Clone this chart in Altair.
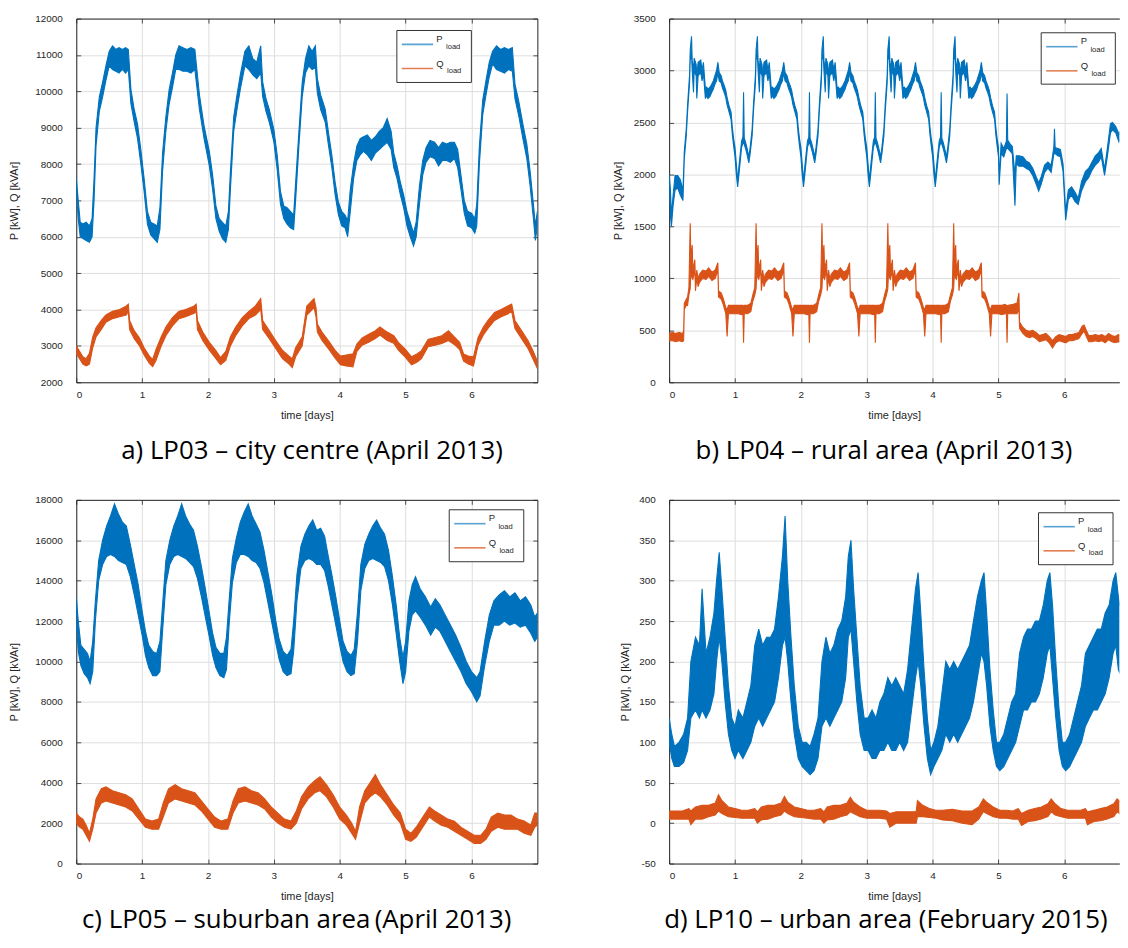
import altair as alt
import pandas as pd

BLUE = "#0072BD"
ORANGE = "#D95319"
AX = "#262626"
GRID = "#dedede"
FONT = "Liberation Sans"
CAP_FONT = "Open Sans"

# ---------------- data (t [days], lower, upper envelope of the noisy trace) -------------
A_P = [(0.00,7300,7600),(0.03,6500,7000),(0.06,6000,6400),(0.10,5950,6350),(0.15,5900,6400),(0.20,5850,6300),
       (0.24,6000,6500),(0.27,7000,7600),(0.30,8500,9000),(0.35,9450,9850),(0.40,9850,10250),(0.45,10300,10700),
       (0.50,10700,11100),(0.55,10600,11250),(0.60,10550,11150),(0.65,10500,11200),(0.70,10600,11150),(0.75,10500,11200),
       (0.79,10600,11150),(0.83,9650,10050),(0.88,9150,9500),(0.93,8700,9100),(0.98,8000,8400),(1.03,7250,7600),
       (1.08,6350,6700),(1.13,6050,6400),(1.18,5950,6350),(1.23,5850,6300),(1.27,6200,6800),(1.31,7800,8300),
       (1.36,8900,9300),(1.41,9650,10050),(1.46,10100,10500),(1.51,10600,11000),(1.56,10600,11250),(1.62,10550,11200),
       (1.68,10550,11150),(1.74,10500,11200),(1.80,10600,11150),(1.87,9500,9900),(1.94,8700,9050),(2.02,7950,8350),
       (2.07,7300,7700),(2.12,6500,6850),(2.17,6150,6500),(2.22,5950,6400),(2.27,5850,6300),(2.31,6200,6700),
       (2.34,7300,7800),(2.39,8900,9300),(2.44,9500,9900),(2.49,10050,10450),(2.56,10700,11100),(2.62,10600,11250),
       (2.68,10450,10900),(2.74,10350,10800),(2.80,10500,11250),(2.83,9850,10250),(2.88,9450,9800),(2.93,9150,9500),
       (3.00,8600,8950),(3.05,7850,8250),(3.10,6900,7250),(3.15,6500,6850),(3.20,6350,6800),(3.25,6250,6700),
       (3.30,6200,6600),(3.33,7000,7500),(3.38,8500,8900),(3.43,9850,10250),(3.48,10500,10900),(3.53,10700,11250),
       (3.58,10600,11100),(3.63,10650,11250),(3.66,9950,10350),(3.71,9500,9900),(3.78,9150,9500),(3.83,8500,8850),
       (3.88,7900,8250),(3.93,7150,7500),(3.98,6600,6950),(4.03,6300,6700),(4.08,6250,6600),(4.12,6000,6450),
       (4.16,6700,7300),(4.21,7600,8000),(4.26,8100,8500),(4.31,8250,8700),(4.36,8350,8750),(4.42,8250,8800),
       (4.48,8100,8650),(4.54,8300,8750),(4.60,8400,8900),(4.66,8500,9000),(4.72,8600,9250),(4.78,8400,8900),
       (4.82,7900,8300),(4.87,7600,7950),(4.92,7150,7500),(4.97,6800,7150),(5.02,6300,6700),(5.07,6000,6400),
       (5.12,5750,6100),(5.16,6000,6400),(5.21,6900,7400),(5.26,7700,8100),(5.31,8050,8450),(5.37,8200,8650),
       (5.44,8150,8600),(5.50,7950,8450),(5.56,8100,8600),(5.62,8100,8550),(5.68,8050,8600),(5.74,8150,8600),
       (5.79,7900,8400),(5.84,7300,7700),(5.89,6650,7000),(5.94,6300,6700),(6.00,6250,6650),(6.05,6100,6500),
       (6.08,6300,6900),(6.12,8000,8500),(6.17,9350,9750),(6.22,9900,10300),(6.27,10400,10800),(6.32,10750,11100),
       (6.38,10600,11250),(6.44,10550,11150),(6.50,10500,11200),(6.56,10600,11150),(6.62,10550,11200),(6.66,9800,10200),
       (6.72,9300,9700),(6.78,8700,9100),(6.84,8150,8550),(6.89,7400,7800),(6.94,6500,6900),(6.97,5900,6300),
       (7.00,6300,6700)]

A_Q = [(0.00,2800,3000),(0.05,2650,2850),(0.10,2500,2700),(0.15,2450,2650),(0.20,2500,2800),(0.25,2950,3250),
       (0.30,3250,3500),(0.38,3450,3700),(0.45,3650,3850),(0.55,3750,3950),(0.66,3800,4000),(0.76,3850,4100),
       (0.79,3950,4150),(0.81,3450,3700),(0.88,3200,3420),(0.96,3000,3220),(1.03,2750,2950),(1.11,2520,2720),
       (1.16,2430,2630),(1.21,2600,2900),(1.29,3000,3250),(1.36,3280,3520),(1.46,3550,3780),(1.56,3750,3950),
       (1.66,3800,4000),(1.79,3900,4100),(1.82,3950,4150),(1.84,3450,3700),(1.92,3150,3380),(2.02,2880,3100),
       (2.12,2650,2870),(2.19,2480,2680),(2.27,2600,2850),(2.34,3000,3250),(2.42,3280,3520),(2.52,3550,3780),
       (2.62,3750,3950),(2.72,3850,4100),(2.80,4000,4300),(2.83,3450,3700),(2.93,3200,3420),(3.03,2920,3140),
       (3.13,2650,2880),(3.23,2500,2720),(3.28,2400,2650),(3.33,2700,2950),(3.43,3000,3250),(3.50,3850,4100),
       (3.61,4050,4300),(3.64,3800,4050),(3.66,3380,3600),(3.73,3150,3380),(3.83,2920,3140),(3.93,2660,2880),
       (4.01,2480,2720),(4.10,2450,2750),(4.20,2420,2780),(4.26,2850,3050),(4.34,3020,3220),(4.44,3100,3320),
       (4.54,3200,3420),(4.61,3300,3520),(4.72,3150,3380),(4.82,3070,3280),(4.89,2880,3100),(4.99,2700,2920),
       (5.09,2480,2700),(5.17,2550,2780),(5.24,2650,2870),(5.34,2980,3180),(5.45,3020,3230),(5.55,3070,3280),
       (5.65,3150,3420),(5.75,3020,3230),(5.82,2900,3100),(5.88,2580,2780),(5.95,2500,2720),(6.03,2450,2700),
       (6.10,3020,3230),(6.18,3300,3520),(6.25,3480,3700),(6.35,3700,3920),(6.45,3800,4000),(6.55,3880,4100),
       (6.61,3950,4150),(6.66,3480,3700),(6.76,3200,3420),(6.86,2920,3140),(6.93,2650,2880),(7.00,2380,2580)]

B_P = [(0.00,1950,2000),(0.02,1600,1850),(0.035,1500,1600),(0.06,1700,1800),(0.09,1850,1990),(0.13,1870,1990),
       (0.17,1800,1950),(0.21,1750,1850),(0.23,2150,2220),(0.26,2370,2440),(0.28,2600,2670),(0.31,2880,2960),
       (0.32,3100,3200),(0.34,3150,3330),(0.35,3000,3100),(0.37,2790,3000),(0.38,3000,3120),(0.41,2950,3060),
       (0.42,2730,2950),(0.44,2950,3080),(0.48,2980,3100),(0.50,2900,3000),(0.52,2980,3080),(0.55,2730,2830),
       (0.57,2760,2840),(0.59,2730,2820),(0.62,2750,2840),(0.64,2780,2860),(0.67,2820,2900),(0.69,2860,2940),
       (0.72,2900,3000),(0.74,2980,3080),(0.76,2900,2980),(0.79,2880,2950),(0.81,2830,2900),(0.84,2780,2850),
       (0.86,2740,2810),(0.88,2670,2740),(0.91,2600,2660),(0.94,2530,2600),(0.96,2380,2450),(0.98,2270,2340),
       (1.00,2170,2260),(1.02,2000,2100),(1.04,1880,1940),(1.06,2000,2080),(1.08,2130,2200),(1.10,2260,2320),
       (1.12,2300,2360),(1.13,2300,2790),(1.14,2290,2350),(1.16,2250,2310),(1.18,2200,2260),(1.21,2110,2170),
       (1.23,2200,2260),(1.26,2370,2440),(1.28,2600,2670),(1.31,2880,2960),(1.32,3100,3200),(1.34,3150,3330),
       (1.35,3000,3100),(1.37,2790,3000),(1.38,3000,3120),(1.41,2950,3060),(1.42,2730,2950),(1.44,2950,3080),
       (1.48,2980,3100),(1.50,2900,3000),(1.52,2980,3080),(1.55,2730,2830),(1.57,2760,2840),(1.59,2730,2820),
       (1.62,2750,2840),(1.64,2780,2860),(1.67,2820,2900),(1.69,2860,2940),(1.72,2900,3000),(1.74,2980,3080),
       (1.76,2900,2980),(1.79,2880,2950),(1.81,2830,2900),(1.84,2780,2850),(1.86,2740,2810),(1.88,2670,2740),
       (1.91,2600,2660),(1.94,2530,2600),(1.96,2380,2450),(1.98,2270,2340),
       (2.00,2170,2260),(2.02,2000,2100),(2.04,1880,1940),(2.06,2000,2080),(2.08,2130,2200),(2.10,2260,2320),
       (2.12,2300,2360),(2.13,2300,2790),(2.14,2290,2350),(2.16,2250,2310),(2.18,2200,2260),(2.21,2110,2170),
       (2.23,2200,2260),(2.26,2370,2440),(2.28,2600,2670),(2.31,2880,2960),(2.32,3100,3200),(2.34,3150,3330),
       (2.35,3000,3100),(2.37,2790,3000),(2.38,3000,3120),(2.41,2950,3060),(2.42,2730,2950),(2.44,2950,3080),
       (2.48,2980,3100),(2.50,2900,3000),(2.52,2980,3080),(2.55,2730,2830),(2.57,2760,2840),(2.59,2730,2820),
       (2.62,2750,2840),(2.64,2780,2860),(2.67,2820,2900),(2.69,2860,2940),(2.72,2900,3000),(2.74,2980,3080),
       (2.76,2900,2980),(2.79,2880,2950),(2.81,2830,2900),(2.84,2780,2850),(2.86,2740,2810),(2.88,2670,2740),
       (2.91,2600,2660),(2.94,2530,2600),(2.96,2380,2450),(2.98,2270,2340),
       (3.00,2170,2260),(3.02,2000,2100),(3.04,1880,1940),(3.06,2000,2080),(3.08,2130,2200),(3.10,2260,2320),
       (3.12,2300,2360),(3.13,2300,2790),(3.14,2290,2350),(3.16,2250,2310),(3.18,2200,2260),(3.21,2110,2170),
       (3.23,2200,2260),(3.26,2370,2440),(3.28,2600,2670),(3.31,2880,2960),(3.32,3100,3200),(3.34,3150,3330),
       (3.35,3000,3100),(3.37,2790,3000),(3.38,3000,3120),(3.41,2950,3060),(3.42,2730,2950),(3.44,2950,3080),
       (3.48,2980,3100),(3.50,2900,3000),(3.52,2980,3080),(3.55,2730,2830),(3.57,2760,2840),(3.59,2730,2820),
       (3.62,2750,2840),(3.64,2780,2860),(3.67,2820,2900),(3.69,2860,2940),(3.72,2900,3000),(3.74,2980,3080),
       (3.76,2900,2980),(3.79,2880,2950),(3.81,2830,2900),(3.84,2780,2850),(3.86,2740,2810),(3.88,2670,2740),
       (3.91,2600,2660),(3.94,2530,2600),(3.96,2380,2450),(3.98,2270,2340),
       (4.00,2170,2260),(4.02,2000,2100),(4.04,1880,1940),(4.06,2000,2080),(4.08,2130,2200),(4.10,2260,2320),
       (4.12,2300,2360),(4.13,2300,2790),(4.14,2290,2350),(4.16,2250,2310),(4.18,2200,2260),(4.21,2110,2170),
       (4.23,2200,2260),(4.26,2370,2440),(4.28,2600,2670),(4.31,2880,2960),(4.32,3100,3200),(4.34,3150,3330),
       (4.35,3000,3100),(4.37,2790,3000),(4.38,3000,3120),(4.41,2950,3060),(4.42,2730,2950),(4.44,2950,3080),
       (4.48,2980,3100),(4.50,2900,3000),(4.52,2980,3080),(4.55,2730,2830),(4.57,2760,2840),(4.59,2730,2820),
       (4.62,2750,2840),(4.64,2780,2860),(4.67,2820,2900),(4.69,2860,2940),(4.72,2900,3000),(4.74,2980,3080),
       (4.76,2900,2980),(4.79,2880,2950),(4.81,2830,2900),(4.84,2780,2850),(4.86,2740,2810),(4.88,2670,2740),
       (4.91,2600,2660),(4.94,2530,2600),(4.96,2380,2450),(4.98,2270,2340),
       (5.00,2170,2260),(5.01,1900,1960),(5.04,2200,2300),(5.08,2170,2250),(5.12,2250,2320),(5.13,2250,2780),
       (5.14,2250,2330),(5.17,2230,2300),(5.21,2200,2270),(5.25,1700,2000),(5.27,2100,2180),(5.31,2080,2180),
       (5.37,2080,2170),(5.42,2060,2130),(5.47,2040,2110),(5.52,1990,2060),(5.57,1910,1980),(5.61,1840,1920),
       (5.65,1910,1980),(5.70,2020,2090),(5.75,2060,2120),(5.80,2020,2090),(5.84,2200,2260),(5.85,2200,2440),
       (5.86,2200,2260),(5.90,2180,2250),(5.94,2170,2240),(5.98,2030,2100),(6.02,1560,1640),(6.06,1760,1850),
       (6.11,1800,1880),(6.16,1740,1830),(6.21,1710,1770),(6.26,1840,1930),(6.32,1930,2030),(6.37,1970,2060),
       (6.42,2040,2120),(6.47,2090,2180),(6.52,2120,2210),(6.56,2170,2250),(6.61,1990,2050),(6.65,2160,2240),
       (6.70,2400,2490),(6.73,2430,2500),(6.78,2400,2460),(6.83,2310,2390),(6.87,2380,2450)]

B_Q = [(0.00,400,470),(0.05,400,480),(0.10,390,470),(0.15,400,480),(0.20,390,470),(0.22,400,490),
       (0.23,700,760),(0.26,740,800),(0.28,740,820),(0.30,840,910),(0.32,900,1530),(0.33,1050,1180),
       (0.35,1000,1320),(0.36,990,1080),(0.39,1080,1180),(0.40,880,950),(0.42,1000,1080),(0.44,920,990),
       (0.46,960,1040),(0.51,1000,1080),(0.56,990,1070),(0.60,1020,1100),(0.65,980,1060),(0.70,1000,1080),
       (0.74,1080,1150),(0.75,820,880),(0.79,800,860),(0.82,750,810),(0.86,660,720),(0.88,440,700),
       (0.90,660,740),(0.95,660,740),
       (1.00,660,740),(1.05,660,740),(1.10,650,740),(1.12,660,740),(1.13,380,730),(1.14,660,740),(1.19,660,740),
       (1.24,680,760),(1.27,780,840),(1.30,840,910),(1.32,900,1530),(1.33,1050,1180),(1.35,1000,1320),
       (1.36,990,1080),(1.39,1080,1180),(1.40,880,950),(1.42,1000,1080),(1.44,920,990),(1.46,960,1040),
       (1.51,1000,1080),(1.56,990,1070),(1.60,1020,1100),(1.65,980,1060),(1.70,1000,1080),(1.74,1080,1150),
       (1.75,820,880),(1.79,800,860),(1.82,750,810),(1.86,660,720),(1.88,440,700),(1.90,660,740),(1.95,660,740),
       (2.00,660,740),(2.05,660,740),(2.10,650,740),(2.12,660,740),(2.13,380,730),(2.14,660,740),(2.19,660,740),
       (2.24,680,760),(2.27,780,840),(2.30,840,910),(2.32,900,1530),(2.33,1050,1180),(2.35,1000,1320),
       (2.36,990,1080),(2.39,1080,1180),(2.40,880,950),(2.42,1000,1080),(2.44,920,990),(2.46,960,1040),
       (2.51,1000,1080),(2.56,990,1070),(2.60,1020,1100),(2.65,980,1060),(2.70,1000,1080),(2.74,1080,1150),
       (2.75,820,880),(2.79,800,860),(2.82,750,810),(2.86,660,720),(2.88,440,700),(2.90,660,740),(2.95,660,740),
       (3.00,660,740),(3.05,660,740),(3.10,650,740),(3.12,660,740),(3.13,380,730),(3.14,660,740),(3.19,660,740),
       (3.24,680,760),(3.27,780,840),(3.30,840,910),(3.32,900,1530),(3.33,1050,1180),(3.35,1000,1320),
       (3.36,990,1080),(3.39,1080,1180),(3.40,880,950),(3.42,1000,1080),(3.44,920,990),(3.46,960,1040),
       (3.51,1000,1080),(3.56,990,1070),(3.60,1020,1100),(3.65,980,1060),(3.70,1000,1080),(3.74,1080,1150),
       (3.75,820,880),(3.79,800,860),(3.82,750,810),(3.86,660,720),(3.88,440,700),(3.90,660,740),(3.95,660,740),
       (4.00,660,740),(4.05,660,740),(4.10,650,740),(4.12,660,740),(4.13,380,730),(4.14,660,740),(4.19,660,740),
       (4.24,680,760),(4.27,780,840),(4.30,840,910),(4.32,900,1530),(4.33,1050,1180),(4.35,1000,1320),
       (4.36,990,1080),(4.39,1080,1180),(4.40,880,950),(4.42,1000,1080),(4.44,920,990),(4.46,960,1040),
       (4.51,1000,1080),(4.56,990,1070),(4.60,1020,1100),(4.65,980,1060),(4.70,1000,1080),(4.74,1080,1150),
       (4.75,820,880),(4.79,800,860),(4.82,750,810),(4.86,660,720),(4.88,440,700),(4.90,660,740),(4.95,660,740),
       (5.00,660,740),(5.05,650,740),(5.10,660,750),(5.12,660,740),(5.13,380,730),(5.14,660,740),(5.22,660,750),
       (5.28,660,760),(5.31,700,860),(5.32,520,580),(5.37,470,530),(5.42,440,500),(5.47,430,490),(5.52,440,500),
       (5.57,420,480),(5.62,390,450),(5.67,400,460),(5.72,410,470),(5.77,380,440),(5.82,330,400),(5.87,380,440),
       (5.92,400,460),(5.97,390,450),(6.02,380,440),(6.07,400,460),(6.12,400,460),(6.17,410,470),(6.22,420,480),
       (6.27,470,540),(6.30,490,550),(6.34,430,490),(6.37,390,450),(6.42,390,450),(6.47,400,460),(6.52,390,450),
       (6.57,400,460),(6.62,380,440),(6.67,410,470),(6.72,390,450),(6.77,380,440),(6.82,390,460),(6.87,380,450)]

C_P = [(0.00,12000,13200),(0.03,10500,12000),(0.07,9800,10800),(0.12,9400,10600),(0.17,9200,10400),(0.21,8900,10000),
       (0.25,9500,11000),(0.29,12000,13000),(0.34,14000,15000),(0.40,14800,16000),(0.46,15200,16700),(0.52,15300,17200),
       (0.58,15200,17800),(0.64,15000,17300),(0.70,14900,16900),(0.76,14800,16700),(0.82,14200,15800),(0.88,13300,14800),
       (0.94,12300,13800),(1.00,11300,12500),(1.05,10300,11500),(1.10,9700,10800),(1.16,9300,10500),(1.22,9300,10400),
       (1.27,9500,11000),(1.31,11500,12800),(1.36,13800,15000),(1.42,14800,16000),(1.48,15200,16700),(1.54,15300,17200),
       (1.60,15200,17800),(1.66,15100,17200),(1.72,14900,16800),(1.78,14700,16500),(1.84,14100,15700),(1.90,13200,14700),
       (1.96,12200,13600),(2.02,11200,12400),(2.07,10300,11400),(2.12,9700,10700),(2.18,9300,10400),(2.24,9200,10400),
       (2.28,9600,11200),(2.32,11800,13000),(2.37,13900,15100),(2.43,14900,16100),(2.49,15300,16900),(2.55,15300,17400),
       (2.61,15200,17800),(2.67,15000,17200),(2.73,14900,16800),(2.79,14600,16400),(2.85,13900,15500),(2.91,12900,14400),
       (2.97,11900,13300),(3.03,10900,12000),(3.08,10100,11100),(3.14,9500,10500),(3.20,9300,10300),(3.26,9400,10600),
       (3.30,10500,12000),(3.35,13000,14300),(3.41,14600,15700),(3.47,15000,16300),(3.53,15100,16700),(3.59,15000,17000),
       (3.65,14800,16500),(3.71,14800,16600),(3.77,14500,16200),(3.82,13800,15300),(3.88,12800,14300),(3.94,11800,13200),
       (4.00,10800,12000),(4.05,10000,11000),(4.11,9500,10500),(4.17,9300,10300),(4.22,9400,10600),(4.27,11000,12500),
       (4.32,13500,14800),(4.38,14600,15800),(4.44,15000,16300),(4.50,15100,16700),(4.56,15000,17000),(4.62,14900,16600),
       (4.68,14700,16300),(4.74,14000,15500),(4.80,12800,14200),(4.86,11300,12700),(4.91,10000,11200),(4.96,8900,10200),
       (5.00,9500,11000),(5.05,11500,13000),(5.10,12300,13800),(5.15,12500,14200),(5.22,12200,13600),(5.30,11800,13200),
       (5.38,11300,12700),(5.45,11700,13100),(5.52,11500,12800),(5.60,11000,12300),(5.68,10500,11800),(5.76,10000,11300),
       (5.84,9500,10700),(5.92,8900,10000),(6.00,8500,9500),(6.08,8000,9200),(6.13,8300,9500),(6.20,9800,11000),
       (6.27,11000,12300),(6.34,11800,13000),(6.42,11800,13300),(6.50,12000,13500),(6.58,11800,13200),(6.66,11900,13400),
       (6.74,11700,13000),(6.82,11800,13200),(6.90,11400,12800),(6.96,11000,12200),(7.00,11200,12400)]

C_Q = [(0.00,2000,2500),(0.05,1800,2300),(0.10,1700,2200),(0.15,1400,1900),(0.20,1100,1500),(0.25,1700,2200),
       (0.30,2500,3200),(0.38,3000,3700),(0.45,3100,3800),(0.55,3000,3600),(0.65,2900,3500),(0.75,2800,3400),
       (0.85,2600,3200),(0.95,2200,2700),(1.05,1800,2200),(1.15,1700,2100),(1.25,1700,2200),(1.32,2300,3000),
       (1.40,3000,3700),(1.50,3200,3900),(1.60,3100,3700),(1.70,3000,3600),(1.80,2900,3500),(1.90,2600,3100),
       (2.00,2200,2700),(2.10,1800,2300),(2.20,1700,2100),(2.30,1700,2200),(2.38,2500,3100),(2.46,3000,3700),
       (2.56,3100,3800),(2.66,3000,3600),(2.76,2900,3500),(2.86,2700,3200),(2.96,2300,2800),(3.06,2000,2500),
       (3.16,1800,2200),(3.26,1700,2100),(3.34,2000,2600),(3.42,2700,3300),(3.52,3200,3800),(3.62,3500,4100),
       (3.70,3600,4300),(3.80,3300,3900),(3.90,2800,3400),(4.00,2200,2800),(4.10,1900,2400),(4.18,1500,2000),
       (4.24,1200,1600),(4.30,2000,2800),(4.38,3000,3600),(4.46,3300,4000),(4.54,3500,4400),(4.62,3300,3900),
       (4.72,2900,3400),(4.82,2400,2900),(4.92,2000,2500),(5.00,1200,1700),(5.08,1100,1500),(5.16,1300,1800),
       (5.26,1800,2300),(5.36,2300,2800),(5.44,2100,2600),(5.54,1900,2400),(5.64,1800,2200),(5.74,1600,2100),
       (5.84,1400,1800),(5.94,1200,1600),(6.04,1000,1400),(6.14,1000,1400),(6.22,1200,1700),(6.30,1600,2300),
       (6.40,1800,2500),(6.50,1700,2400),(6.60,1700,2400),(6.70,1700,2200),(6.80,1500,2100),(6.90,1400,1900),
       (6.96,1800,2500),(7.00,1900,2500)]

D_P = [(0.00,100,130),(0.04,80,110),(0.08,70,95),(0.15,70,100),(0.22,75,110),(0.28,90,130),(0.33,130,200),
       (0.40,140,230),(0.46,130,220),(0.50,140,290),(0.56,130,210),(0.62,140,230),(0.68,160,260),(0.72,200,300),
       (0.76,230,335),(0.80,200,290),(0.85,150,230),(0.90,110,170),(0.95,90,130),(1.00,80,120),(1.05,90,140),
       (1.12,80,130),(1.18,90,150),(1.24,100,170),(1.30,120,220),(1.36,130,240),(1.42,120,220),(1.48,130,230),
       (1.54,140,230),(1.60,150,240),(1.66,180,280),(1.72,220,330),(1.76,230,380),(1.80,200,300),(1.85,150,230),
       (1.90,110,170),(1.96,80,120),(2.02,70,100),(2.08,65,100),(2.14,60,95),(2.20,65,110),(2.26,80,130),
       (2.32,120,200),(2.38,130,230),(2.44,120,210),(2.50,130,220),(2.56,140,240),(2.62,150,250),(2.68,180,280),
       (2.72,230,330),(2.76,240,350),(2.80,200,290),(2.85,150,230),(2.90,110,170),(2.96,90,130),(3.02,90,130),
       (3.08,80,140),(3.14,80,130),(3.20,90,150),(3.26,90,160),(3.32,100,180),(3.38,90,170),(3.44,90,180),
       (3.50,100,170),(3.56,90,160),(3.62,100,190),(3.68,140,240),(3.74,180,290),(3.78,200,310),(3.82,170,260),
       (3.87,120,190),(3.92,80,130),(3.97,60,90),(4.02,70,100),(4.08,80,120),(4.14,90,160),(4.20,110,200),
       (4.26,100,190),(4.32,110,200),(4.38,100,190),(4.44,110,200),(4.50,120,210),(4.56,130,220),(4.62,150,250),
       (4.68,180,280),(4.74,210,300),(4.78,200,310),(4.82,170,260),(4.87,120,190),(4.92,90,140),(4.97,70,100),
       (5.02,65,100),(5.08,70,110),(5.14,80,130),(5.20,90,150),(5.26,100,160),(5.32,120,210),(5.38,140,230),
       (5.44,140,240),(5.50,150,240),(5.56,150,250),(5.62,160,250),(5.68,180,270),(5.74,210,300),(5.78,220,310),
       (5.82,180,270),(5.87,130,200),(5.92,90,140),(5.97,70,100),(6.02,65,100),(6.08,70,110),(6.14,80,130),
       (6.20,90,150),(6.26,100,170),(6.32,120,210),(6.38,130,220),(6.44,140,230),(6.50,140,240),(6.56,150,240),
       (6.62,160,260),(6.68,180,270),(6.74,210,300),(6.78,220,310),(6.82,190,280),(6.87,180,260)]

D_Q = [(0.00,5,15),(0.10,5,15),(0.20,5,15),(0.30,5,18),(0.33,-2,15),(0.40,5,20),(0.50,5,22),(0.60,8,22),
       (0.70,10,25),(0.75,15,35),(0.80,12,28),(0.90,8,20),(1.00,7,18),(1.10,6,16),(1.20,6,16),(1.30,6,18),
       (1.34,0,14),(1.40,4,20),(1.50,5,22),(1.60,8,22),(1.70,10,25),(1.75,15,33),(1.80,12,26),(1.90,8,20),
       (2.00,7,18),(2.10,6,16),(2.20,5,16),(2.30,5,18),(2.35,0,14),(2.40,4,20),(2.50,5,22),(2.60,8,22),
       (2.70,10,25),(2.75,14,32),(2.80,12,26),(2.90,8,20),(3.00,6,16),(3.10,6,16),(3.20,6,16),(3.30,5,15),
       (3.35,-5,12),(3.45,0,14),(3.55,0,14),(3.65,0,14),(3.75,0,14),(3.77,8,28),(3.85,8,22),(3.95,7,18),
       (4.05,6,16),(4.15,4,16),(4.30,3,17),(4.45,0,15),(4.60,-2,15),(4.70,5,20),(4.77,14,30),(4.82,12,26),
       (4.92,8,20),(5.02,6,16),(5.12,6,16),(5.22,5,15),(5.30,5,18),(5.35,-3,12),(5.45,2,16),(5.55,3,18),
       (5.65,5,20),(5.75,8,24),(5.80,14,30),(5.86,10,24),(5.95,8,18),(6.05,6,16),(6.15,6,16),(6.25,6,16),
       (6.32,6,18),(6.35,-2,14),(6.45,2,16),(6.55,3,18),(6.65,5,20),(6.75,8,24),(6.80,14,30),(6.87,10,25)]

X_TICKS = [0, 1, 2, 3, 4, 5, 6]
A_YTICKS = [2000, 3000, 4000, 5000, 6000, 7000, 8000, 9000, 10000, 11000, 12000]
B_YTICKS = [0, 500, 1000, 1500, 2000, 2500, 3000, 3500]
C_YTICKS = [0, 2000, 4000, 6000, 8000, 10000, 12000, 14000, 16000, 18000]
D_YTICKS = [-50, 0, 50, 100, 150, 200, 250, 300, 350, 400]

CAPTIONS = ["a) LP03 \u2013 city centre (April 2013)",
            "b) LP04 \u2013 rural area (April 2013)",
            "c) LP05 \u2013 suburban area\u2009(April 2013)",
            "d) LP10 \u2013 urban area (February 2015)"]

H = 366
W_FULL = 464
W_CUT = 453
PX_PER_DAY = W_FULL / 7.0
TICK = 4.5

# page layout (autosize none: the first plot's corner sits at padding left/top)
SVG_W = 1119
SVG_H = 932
PAD_L = 68.7
PAD_T = 7.7


def frame(rows):
    return pd.DataFrame(rows, columns=["t", "lo", "hi"])


def panel(p_rows, q_rows, ydom, yticks, width, caption, cap_dx, cap_off, title_x, lg, right_border):
    xmax = width / PX_PER_DAY
    xs = alt.Scale(domain=[0, xmax], nice=False, zero=False)
    ys = alt.Scale(domain=ydom, nice=False, zero=False)
    lab = dict(labelFont=FONT, labelFontSize=10, labelColor=AX, titleFont=FONT, titleFontSize=11,
               titleColor=AX, titleFontWeight="normal")
    x_main = alt.Axis(orient="bottom", values=X_TICKS, grid=True, gridColor=GRID, gridWidth=1,
                      domain=True, domainColor=AX, domainWidth=1, ticks=False, labelPadding=7,
                      labelExpr="'' + datum.value", title="time [days]", titlePadding=10, **lab)
    y_main = alt.Axis(orient="left", values=yticks, grid=True, gridColor=GRID, gridWidth=1,
                      domain=True, domainColor=AX, domainWidth=1, ticks=False, labelPadding=14,
                      labelExpr="'' + datum.value", title="P [kW], Q [kVAr]", titleX=title_x, **lab)
    pdf = frame(p_rows)
    qdf = frame(q_rows)
    p = alt.Chart(pdf).mark_area(color=BLUE, stroke=BLUE, strokeWidth=1.1, clip=True).encode(
        x=alt.X("t:Q", scale=xs, axis=x_main),
        y=alt.Y("lo:Q", scale=ys, axis=y_main),
        y2="hi:Q")
    q = alt.Chart(qdf).mark_area(color=ORANGE, stroke=ORANGE, strokeWidth=1.1, clip=True).encode(
        x=alt.X("t:Q", scale=xs, axis=None),
        y=alt.Y("lo:Q", scale=ys, axis=None),
        y2="hi:Q")

    blank = dict(labels=False, grid=False, title=None)
    top_dom = alt.Axis(orient="top", ticks=False, domain=True, domainColor=AX, domainWidth=1, **blank)
    right_dom = alt.Axis(orient="right", ticks=False, domain=True, domainColor=AX, domainWidth=1, **blank)
    tick_style = dict(ticks=True, tickSize=TICK, tickColor=AX, tickWidth=0.8, domain=False, offset=-TICK, **blank)
    bx = alt.Axis(orient="bottom", values=X_TICKS, **tick_style)
    ly = alt.Axis(orient="left", values=yticks, **tick_style)
    tx = alt.Axis(orient="top", values=X_TICKS, **tick_style)
    ry = alt.Axis(orient="right", values=yticks, **tick_style)

    f1 = alt.Chart(pdf).mark_point(opacity=0, size=1, clip=True).encode(
        x=alt.X("t:Q", scale=xs, axis=top_dom),
        y=alt.Y("lo:Q", scale=ys, axis=right_dom if right_border else None))
    f2 = alt.Chart(pdf).mark_point(opacity=0, size=1, clip=True).encode(
        x=alt.X("t:Q", scale=xs, axis=bx),
        y=alt.Y("lo:Q", scale=ys, axis=ly))
    f3 = alt.Chart(pdf).mark_point(opacity=0, size=1, clip=True).encode(
        x=alt.X("t:Q", scale=xs, axis=tx),
        y=alt.Y("lo:Q", scale=ys, axis=ry if right_border else None))

    one = alt.Data(values=[{"k": 1}])
    bx0, bx1, by0, by1 = lg
    box = alt.Chart(one).mark_rect(fill="white", stroke="#333333", strokeWidth=1).encode(
        x=alt.value(bx0), x2=alt.value(bx1), y=alt.value(by0), y2=alt.value(by1))
    l1 = alt.Chart(one).mark_rule(color=BLUE, strokeWidth=1.6, opacity=0.65).encode(
        x=alt.value(bx0 + 5), x2=alt.value(bx0 + 36.5), y=alt.value(by0 + 14))
    l2 = alt.Chart(one).mark_rule(color=ORANGE, strokeWidth=1.6, opacity=0.75).encode(
        x=alt.value(bx0 + 5), x2=alt.value(bx0 + 36.5), y=alt.value(by0 + 38.3))
    txt = dict(font=FONT, color=AX, align="left", baseline="alphabetic")
    t1 = alt.Chart(one).mark_text(text="P", fontSize=9.5, **txt).encode(
        x=alt.value(bx0 + 39.7), y=alt.value(by0 + 11.6))
    t2 = alt.Chart(one).mark_text(text="load", fontSize=7.6, **txt).encode(
        x=alt.value(bx0 + 49.5), y=alt.value(by0 + 19))
    t3 = alt.Chart(one).mark_text(text="Q", fontSize=9.5, **txt).encode(
        x=alt.value(bx0 + 39.7), y=alt.value(by0 + 36.3))
    t4 = alt.Chart(one).mark_text(text="load", fontSize=7.6, **txt).encode(
        x=alt.value(bx0 + 50.5), y=alt.value(by0 + 43))

    return alt.layer(p, q, f1, f2, f3, box, l1, l2, t1, t2, t3, t4).resolve_axis(
        x="independent", y="independent").properties(
        width=width, height=H,
        title=alt.TitleParams(text=caption, orient="bottom", anchor="middle", font=CAP_FONT,
                              fontSize=26, fontWeight="normal", color="black", baseline="alphabetic",
                              offset=cap_off, dx=cap_dx))


pa = panel(A_P, A_Q, [2000, 12000], A_YTICKS, W_FULL, CAPTIONS[0], 5.3, 39, -56.7, (322.6, 397.6, 12, 64.3), True)
pb = panel(B_P, B_Q, [0, 3500], B_YTICKS, W_CUT, CAPTIONS[1], -10.3, 39, -46, (374.4, 449, 14.3, 66), False)
pc = panel(C_P, C_Q, [0, 18000], C_YTICKS, W_FULL, CAPTIONS[2], -10.2, 27, -56.7, (375.3, 450.3, 10, 62.3), True)
pd_ = panel(D_P, D_Q, [-50, 400], D_YTICKS, W_CUT, CAPTIONS[3], -8.3, 27, -39, (371.7, 446.7, 13, 65.3), False)

chart = alt.concat(pa, pb, pc, pd_, columns=2, spacing={"row": 118.3, "column": 132.6}, bounds="flush").properties(
    autosize=alt.AutoSizeParams(type="none"),
    padding={"left": PAD_L, "top": PAD_T, "right": SVG_W - PAD_L, "bottom": SVG_H - PAD_T},
    background="white",
).configure_view(stroke="transparent", strokeWidth=0)

chart.save("out.html", embed_options={"renderer": "svg", "actions": False})
